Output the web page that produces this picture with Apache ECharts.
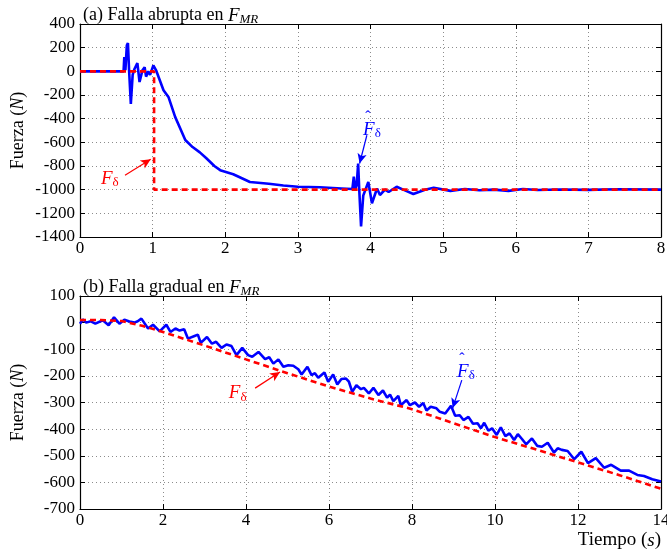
<!DOCTYPE html>
<html><head><meta charset="utf-8">
<script src="https://cdn.jsdelivr.net/npm/echarts@6/dist/echarts.min.js"></script>
<style>html,body{margin:0;padding:0;background:#fff}#c{width:667px;height:552px}</style>
</head><body><div id="c"></div>
<script>
// ---- Panel (a): abrupt fault ----
const topXTicks = [0,1,2,3,4,5,6,7,8];
const topYTicks = [400,200,0,-200,-400,-600,-800,-1000,-1200,-1400];
const topEstT = [0,0.60,0.61,0.625,0.645,0.66,0.675,0.70,0.725,0.75,0.79,0.82,0.86,0.89,0.91,0.94,0.965,1.01,1.05,1.15,1.22,1.31,1.45,1.55,1.65,1.74,1.85,1.93,2.11,2.34,2.6,2.8,3.0,3.3,3.6,3.75,3.77,3.79,3.81,3.83,3.845,3.87,3.9,3.97,4.02,4.09,4.13,4.2,4.25,4.36,4.45,4.59,4.75,4.87,5.1,5.3,5.5,5.7,5.9,6.1,6.3,6.6,7.0,7.4,8.0];
const topEstV = [0,0,120,10,220,240,20,-275,-30,20,70,-90,10,35,-45,0,-30,50,5,-160,-220,-385,-580,-640,-685,-735,-800,-835,-870,-935,-950,-965,-975,-980,-990,-995,-890,-1000,-960,-780,-1000,-1310,-1050,-935,-1115,-990,-1045,-1000,-1020,-975,-1000,-1037,-1000,-984,-1010,-995,-1005,-1000,-1010,-995,-1003,-998,-1002,-997,-1000];
const topFaultT = [0,1.02,1.02,8];
const topFaultV = [0,0,-1000,-1000];

// ---- Panel (b): gradual fault ----
const botXTicks = [0,2,4,6,8,10,12,14];
const botYTicks = [100,0,-100,-200,-300,-400,-500,-600,-700];
const botEstT = [0,0.07,0.15,0.26,0.37,0.55,0.69,0.82,0.95,1.07,1.19,1.31,1.39,1.48,1.64,1.76,1.92,2.08,2.18,2.30,2.40,2.51,2.60,2.76,2.84,2.91,3.06,3.18,3.28,3.41,3.53,3.65,3.77,3.91,4.05,4.15,4.30,4.46,4.56,4.66,4.78,4.90,5.02,5.14,5.26,5.34,5.48,5.58,5.66,5.74,5.89,5.98,6.10,6.20,6.30,6.41,6.48,6.56,6.66,6.77,6.84,6.96,7.07,7.19,7.30,7.40,7.47,7.55,7.67,7.73,7.87,7.95,8.07,8.17,8.27,8.35,8.45,8.59,8.67,8.80,8.94,9.04,9.15,9.24,9.36,9.47,9.58,9.66,9.74,9.84,9.93,10.04,10.14,10.25,10.35,10.46,10.55,10.65,10.75,10.89,11.02,11.13,11.27,11.42,11.51,11.61,11.75,11.91,12.08,12.24,12.43,12.63,12.80,13.03,13.23,13.43,13.59,13.79,14.0];
const botEstV = [-4,12,0,5,-4,9,-10,20,-4,11,4,0,5,15,-22,-8,-33,-8,-35,-22,-30,-25,-60,-50,-45,-76,-54,-79,-72,-95,-82,-88,-122,-95,-122,-128,-110,-137,-130,-154,-138,-166,-160,-162,-175,-195,-166,-197,-190,-207,-187,-222,-195,-232,-212,-210,-222,-260,-235,-250,-245,-266,-245,-272,-255,-282,-270,-295,-275,-310,-291,-310,-300,-316,-302,-330,-316,-322,-335,-341,-312,-350,-348,-366,-354,-380,-378,-397,-376,-406,-397,-422,-393,-426,-416,-441,-419,-437,-457,-435,-463,-466,-451,-488,-472,-478,-482,-513,-485,-528,-509,-545,-534,-556,-556,-572,-576,-588,-597];
const botFaultT = [0,0.5,1,1.5,2,3,4,5,6,7,8,9,10,11,12,13,14];
const botFaultV = [10,10,6,-12,-35,-86,-138,-190,-240,-285,-325,-378,-430,-477,-525,-573,-624];

const zip = (a,b) => a.map((v,i)=>[v,b[i]]);
const FF = 'Liberation Serif';
const BLUE = '#0000ff', RED = '#ff0000';
const gridLine = {show:true, lineStyle:{color:'#8c8c8c', type:[1,3], width:1}};
const fs = 17;

function xAx(grid, min, max, step, pos){
  const main = pos === 'bottom';
  return {type:'value', gridIndex:grid, min, max, interval:step, position:pos,
    axisLine:{show:true, onZero:false, lineStyle:{color:'#000', width:1.2}},
    axisTick:{show:true, inside:true, length:5, lineStyle:{color:'#000'}},
    axisLabel:{show:main, margin:3, color:'#000', fontFamily:FF, fontSize:fs, formatter:v=>String(v)},
    splitLine: main ? gridLine : {show:false}};
}
function yAx(grid, min, max, step, pos){
  const main = pos === 'left';
  return {type:'value', gridIndex:grid, min, max, interval:step, position:pos,
    axisLine:{show:true, onZero:false, lineStyle:{color:'#000', width:1.2}},
    axisTick:{show:true, inside:true, length:5, lineStyle:{color:'#000'}},
    axisLabel:{show:main, margin:5, color:'#000', fontFamily:FF, fontSize:fs, formatter:v=>String(v)},
    splitLine: main ? gridLine : {show:false},
    name: main ? 'Fuerza ({i|N})' : '', nameLocation:'middle', nameGap:53, nameRotate:90, nameMoveOverlap:false,
    nameTextStyle:{color:'#000', fontFamily:FF, fontSize:18, rich:{i:{fontStyle:'italic', fontFamily:FF, fontSize:18, color:'#000'}}}};
}
const richTxt = (c) => ({
  f:{fontStyle:'italic', fontFamily:FF, fontSize:19, color:c},
  s:{fontFamily:FF, fontSize:13, color:c, verticalAlign:'bottom', padding:[8,0,0,0]},
  h:{fontFamily:FF, fontSize:16, color:c, padding:[0,8,-8,0], lineHeight:10}
});
function arrow(color, from, to){
  return {silent:true, symbol:['none','arrow'], symbolSize:[7,10], animation:false,
    lineStyle:{color, width:1.2, type:'solid'}, label:{show:false},
    data:[[{coord:from},{coord:to}]]};
}
function txt(color, at, fmt){
  return {silent:true, symbol:'circle', symbolSize:0, animation:false,
    label:{show:true, position:'inside', formatter:fmt, rich:richTxt(color)},
    data:[{coord:at}]};
}

const titleRich = {
  n:{fontFamily:FF, fontWeight:'normal', fontSize:18, color:'#000'},
  f:{fontFamily:FF, fontWeight:'normal', fontStyle:'italic', fontSize:19, color:'#000'},
  s:{fontFamily:FF, fontWeight:'normal', fontStyle:'italic', fontSize:13, color:'#000', verticalAlign:'bottom', padding:[8,0,0,0]}
};

const option = {
  animation:false,
  backgroundColor:'#fff',
  title:[
    {text:'{n|(a) Falla abrupta en }{f|F}{s|MR}', left:78, top:0, textStyle:{fontWeight:'normal', rich:titleRich}},
    {text:'{n|(b) Falla gradual en }{f|F}{s|MR}', left:78, top:272, textStyle:{fontWeight:'normal', rich:titleRich}}
  ],
  grid:[
    {left:80, top:24, width:581, height:213, outerBoundsMode:'none', containLabel:false},
    {left:80, top:296, width:581, height:213, outerBoundsMode:'none', containLabel:false}
  ],
  xAxis:[xAx(0,0,8,1,'bottom'), xAx(1,0,14,2,'bottom'), xAx(0,0,8,1,'top'), xAx(1,0,14,2,'top')],
  yAxis:[yAx(0,-1400,400,200,'left'), yAx(1,-700,100,100,'left'), yAx(0,-1400,400,200,'right'), yAx(1,-700,100,100,'right')],
  graphic:[{type:'text', right:6, top:531, style:{text:'Tiempo ({i|s})', fill:'#000', fontFamily:FF, fontSize:19,
    rich:{i:{fontStyle:'italic', fontFamily:FF, fontSize:19, fill:'#000'}}}}],
  series:[
    {type:'line', xAxisIndex:0, yAxisIndex:0, data:zip(topEstT, topEstV), showSymbol:false, lineStyle:{color:BLUE, width:2.6}, itemStyle:{color:BLUE},
      markLine:arrow(BLUE,[3.95,-540],[3.85,-779]), markPoint:txt(BLUE,[4.02,-450],'{h|ˆ}\n{f|F}{s|δ}')},
    {type:'line', xAxisIndex:0, yAxisIndex:0, data:zip(topFaultT, topFaultV), showSymbol:false, lineStyle:{color:RED, width:2.6, type:[6,4]}, itemStyle:{color:RED},
      markLine:arrow(RED,[0.62,-878],[0.974,-743]), markPoint:txt(RED,[0.41,-910],'{f|F}{s|δ}')},
    {type:'line', xAxisIndex:1, yAxisIndex:1, data:zip(botEstT, botEstV), showSymbol:false, lineStyle:{color:BLUE, width:2.6}, itemStyle:{color:BLUE},
      markLine:arrow(BLUE,[9.2,-216],[8.98,-321]), markPoint:txt(BLUE,[9.3,-165],'{h|ˆ}\n{f|F}{s|δ}')},
    {type:'line', xAxisIndex:1, yAxisIndex:1, data:zip(botFaultT, botFaultV), showSymbol:false, lineStyle:{color:RED, width:2.6, type:[6,4]}, itemStyle:{color:RED},
      markLine:arrow(RED,[4.22,-246],[4.82,-185]), markPoint:txt(RED,[3.8,-265],'{f|F}{s|δ}')}
  ]
};
const chart = echarts.init(document.getElementById('c'));
chart.setOption(option);
</script></body></html>
